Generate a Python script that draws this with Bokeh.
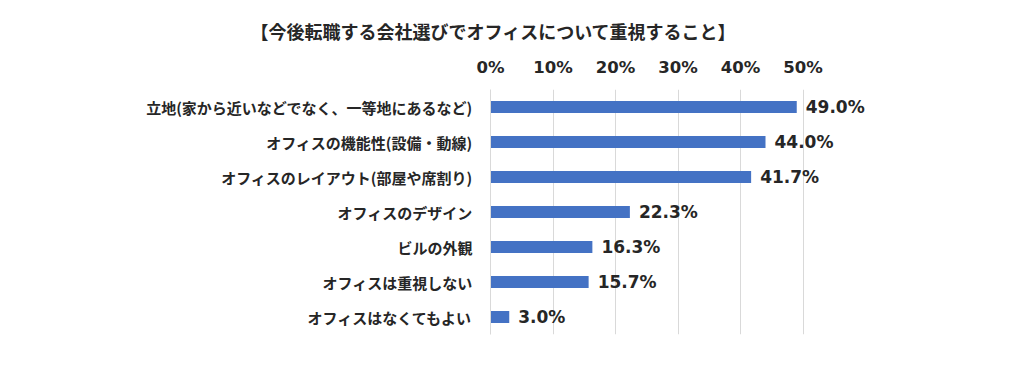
from bokeh.plotting import figure
from bokeh.models import ColumnDataSource, FactorRange, Range1d, FixedTicker, Title, CustomJSTickFormatter
from bokeh.embed import file_html
from bokeh.resources import INLINE
from bokeh.core.properties import value

title_text = "【今後転職する会社選びでオフィスについて重視すること】"
categories = [
    "立地(家から近いなどでなく、一等地にあるなど)",
    "オフィスの機能性(設備・動線)",
    "オフィスのレイアウト(部屋や席割り)",
    "オフィスのデザイン",
    "ビルの外観",
    "オフィスは重視しない",
    "オフィスはなくてもよい",
]
values = [49.0, 44.0, 41.7, 22.3, 16.3, 15.7, 3.0]
ticks = [0, 10, 20, 30, 40, 50]

src = ColumnDataSource(dict(cat=categories, val=values,
                            lab=["%.1f%%" % v for v in values]))

p = figure(width=1004, height=375, output_backend="svg", toolbar_location=None,
           y_range=FactorRange(*categories[::-1]), x_range=Range1d(0, 60),
           x_axis_location="above",
           min_border_left=490, min_border_right=139,
           min_border_top=89, min_border_bottom=41)
p.outline_line_color = None
p.background_fill_color = "white"

p.hbar(y="cat", right="val", left=0, height=0.34, source=src,
       fill_color="#4472C4", line_color=None)

p.text(x="val", y="cat", text="lab", source=src, x_offset=9,
       text_baseline="middle", text_align="left",
       text_font=value("DejaVu Sans"), text_font_style="bold",
       text_font_size="17px", text_color="#262626")

xa = p.xaxis[0]
xa.ticker = FixedTicker(ticks=ticks)
xa.formatter = CustomJSTickFormatter(code="return tick.toFixed(0) + '%';")
xa.axis_line_color = None
xa.major_tick_line_color = None
xa.minor_tick_line_color = None
xa.major_label_text_font = "DejaVu Sans"
xa.major_label_text_font_style = "bold"
xa.major_label_text_font_size = "16.5px"
xa.major_label_text_color = "#262626"
xa.major_label_standoff = 7

ya = p.yaxis[0]
ya.axis_line_color = "#d9d9d9"
ya.major_tick_line_color = None
ya.minor_tick_line_color = None
ya.major_label_text_font = "Noto Sans CJK JP"
ya.major_label_text_font_style = "bold"
ya.major_label_text_font_size = "15px"
ya.major_label_text_color = "#262626"
ya.major_label_standoff = 12

p.xgrid.ticker = FixedTicker(ticks=ticks)
p.xgrid.grid_line_color = "#d9d9d9"
p.ygrid.grid_line_color = None

t = Title(text=title_text, align="left", offset=-240,
          text_font="Noto Sans CJK JP", text_font_style="bold",
          text_font_size="18px", text_color="#262626", standoff=22)
p.add_layout(t, "above")

open("out.html", "w").write(file_html(p, INLINE))
